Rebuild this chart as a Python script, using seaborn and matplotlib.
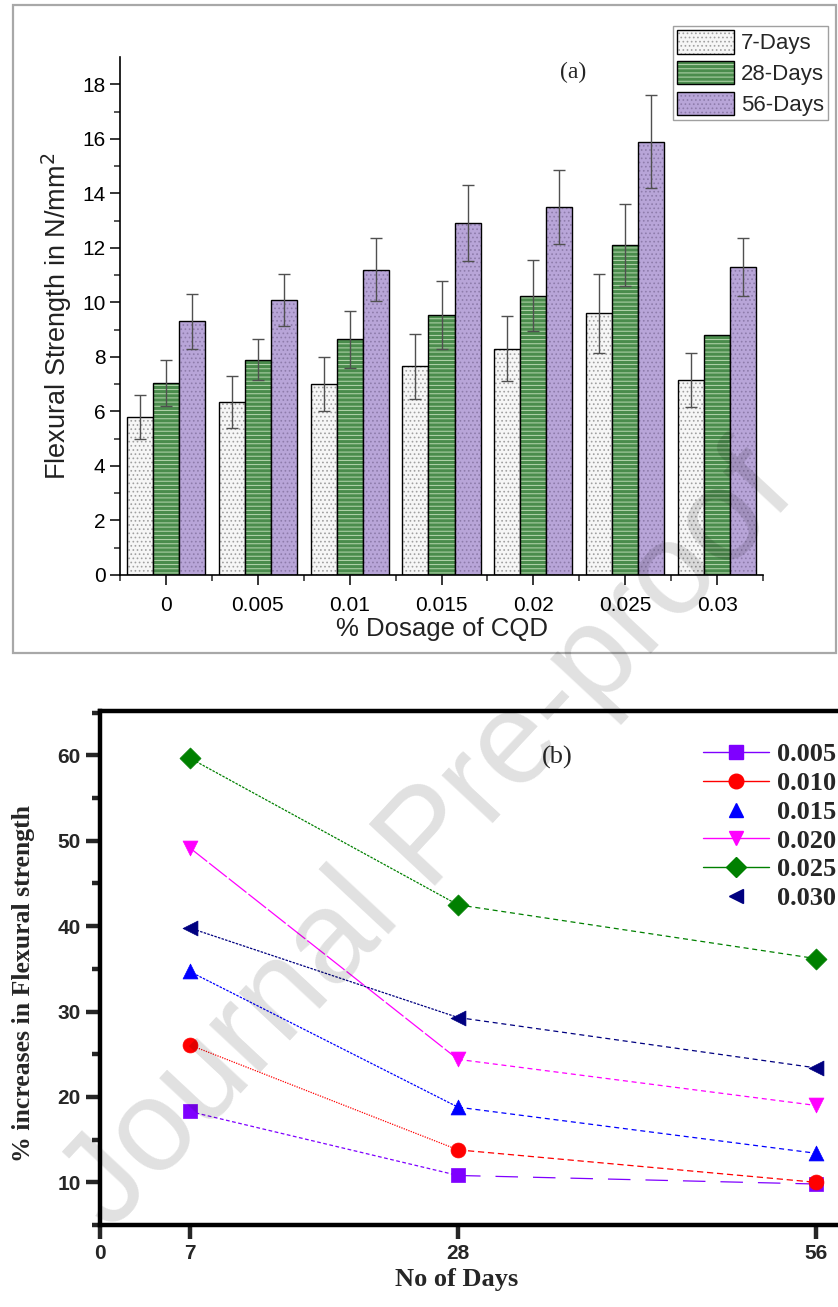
import numpy as np
import pandas as pd
import matplotlib
matplotlib.use("Agg")
import matplotlib.pyplot as plt
import matplotlib.colors as mcolors
import seaborn as sns
from matplotlib.lines import Line2D
from matplotlib.patches import Rectangle

# ---------------- data ----------------
dosages = ["0", "0.005", "0.01", "0.015", "0.02", "0.025", "0.03"]
periods = ["7-Days", "28-Days", "56-Days"]
strength_7 = [5.8, 6.35, 7.0, 7.65, 8.3, 9.6, 7.15]
strength_28 = [7.05, 7.9, 8.65, 9.55, 10.25, 12.1, 8.8]
strength_56 = [9.3, 10.1, 11.2, 12.9, 13.5, 15.9, 11.3]
err_7 = [0.8, 0.95, 1.0, 1.2, 1.2, 1.45, 1.0]
err_28 = [0.85, 0.75, 1.05, 1.25, 1.3, 1.5, 0.0]
err_56 = [1.0, 0.95, 1.15, 1.4, 1.35, 1.7, 1.05]

days = [7, 28, 56]
dose_labels = ["0.005", "0.010", "0.015", "0.020", "0.025", "0.030"]
inc_005 = [18.3, 10.8, 9.8]
inc_010 = [26.1, 13.8, 10.0]
inc_015 = [34.7, 18.8, 13.4]
inc_020 = [49.2, 24.4, 19.0]
inc_025 = [59.7, 42.5, 36.2]
inc_030 = [39.8, 29.3, 23.4]

# ---------------- style ----------------
sns.set_style("ticks")
plt.rcParams["font.family"] = ["Liberation Sans", "DejaVu Sans"]
plt.rcParams["hatch.linewidth"] = 0.7

bar_colors = ["#f6f6f6", "#4a8c4c", "#b8a5d8"]
bar_hatches = ["....", "----", "...."]
hatch_colors = ["#a0a0a0", "#b8d8b0", "#8e7cab"]

line_colors = ["#7f00ff", "#ff0000", "#0000ff", "#ff00ff", "#008000", "#000080"]
line_markers = ["s", "o", "^", "v", "D", "<"]
seg1_styles = [(0, (3, 2)), (0, (1, 1)), (0, (2, 1)), (0, (18, 2)), (0, (2, 1)), (0, (2, 1))]
seg2_styles = [(0, (18, 12)), (0, (5, 3)), (0, (4, 3)), (0, (4, 3)), (0, (4, 3)), (0, (4, 3))]
legend_has_line = [True, True, False, True, True, False]

W, H = 838, 1307
fig = plt.figure(figsize=(W / 100, H / 100), dpi=100)

# ================= panel (a) =================
ax1 = fig.add_axes([120 / W, 1 - 575 / H, (763 - 120) / W, (575 - 57) / H])
df = pd.DataFrame({
    "dosage": dosages * 3,
    "strength": strength_7 + strength_28 + strength_56,
    "period": [periods[0]] * 7 + [periods[1]] * 7 + [periods[2]] * 7,
})
sns.barplot(data=df, x="dosage", y="strength", hue="period", order=dosages,
            hue_order=periods, palette=bar_colors, width=0.85, edgecolor="black",
            linewidth=1.0, errorbar=None, legend=False, ax=ax1, saturation=1)

bar_conts = list(ax1.containers)
errs = [err_7, err_28, err_56]
vals = [strength_7, strength_28, strength_56]
for i, cont in enumerate(bar_conts):
    for p in cont.patches:
        p.set_hatch(bar_hatches[i])
        p._hatch_color = mcolors.to_rgba(hatch_colors[i])
        p.stale = True
    xs = [p.get_x() + p.get_width() / 2 for p in cont.patches]
    keep = [k for k in range(len(xs)) if errs[i][k] > 0]
    ax1.errorbar([xs[k] for k in keep], [vals[i][k] for k in keep],
                 yerr=[errs[i][k] for k in keep], fmt="none", ecolor="#505050",
                 elinewidth=1.0, capsize=4, capthick=1.0, zorder=5)

ax1.set_xlim(-0.5, 6.5)
ax1.set_ylim(0, 19)
ax1.set_yticks(np.arange(0, 19, 2))
ax1.set_yticks(np.arange(1, 19, 2), minor=True)
ax1.set_xticks(np.arange(-0.5, 7, 1), minor=True)
ax1.tick_params(axis="both", which="major", direction="out", length=7, width=1.1,
                labelsize=15, colors="black")
ax1.tick_params(axis="both", which="minor", direction="out", length=4, width=1.1)
ax1.tick_params(axis="x", which="major", pad=8)
for s in ["top", "right"]:
    ax1.spines[s].set_visible(False)
for s in ["left", "bottom"]:
    ax1.spines[s].set_linewidth(1.2)
    ax1.spines[s].set_color("black")
ax1.set_xlabel("% Dosage of CQD", fontsize=18.5, color="#222222")
ax1.set_ylabel("Flexural Strength in N/mm$^2$", fontsize=19.5, color="#222222")
ax1.xaxis.set_label_coords(0.5, -0.082)
ax1.yaxis.set_label_coords(-0.072, 0.5)

leg1 = ax1.legend([c.patches[0] for c in bar_conts], periods, loc="upper right",
                  bbox_to_anchor=(828 / W, 1 - 26 / H), bbox_transform=fig.transFigure,
                  fontsize=16, frameon=True, fancybox=False, edgecolor="#888888",
                  handlelength=2.6, handleheight=1.25, labelspacing=0.3,
                  handletextpad=0.3, borderpad=0.18, borderaxespad=0)
leg1.get_frame().set_linewidth(1.0)
for hp in leg1.get_patches():
    hp.set_edgecolor("black")
for i, hp in enumerate(leg1.get_patches()):
    hp._hatch_color = mcolors.to_rgba(hatch_colors[i])
fig.text(573 / W, 1 - 72 / H, "(a)", fontsize=17, family="Liberation Serif",
         ha="center", va="center")

fig.patches.append(Rectangle((13 / W, 1 - 653 / H), (836 - 13) / W, (653 - 5) / H,
                             transform=fig.transFigure, fill=False,
                             edgecolor="#a8a8a8", lw=1.6))

# ================= panel (b) =================
ax2 = fig.add_axes([100 / W, 1 - 1225 / H, (848 - 100) / W, (1225 - 711) / H])
series = [inc_005, inc_010, inc_015, inc_020, inc_025, inc_030]
handles = []
for i, ys in enumerate(series):
    sns.lineplot(x=days[:2], y=ys[:2], ax=ax2, color=line_colors[i],
                 linestyle=seg1_styles[i], linewidth=0.9)
    sns.lineplot(x=days[1:], y=ys[1:], ax=ax2, color=line_colors[i],
                 linestyle=seg2_styles[i], linewidth=0.9)
    sns.scatterplot(x=days, y=ys, ax=ax2, color=line_colors[i], marker=line_markers[i],
                    s=115, edgecolor=line_colors[i], linewidth=0.5, zorder=5)
    handles.append(Line2D([], [], color=line_colors[i], marker=line_markers[i],
                          markersize=10.5, lw=1.0,
                          linestyle="-" if legend_has_line[i] else "none"))

ax2.set_xlim(0, 58.5)
ax2.set_ylim(5, 65.2)
ax2.set_xticks([0, 7, 28, 56])
ax2.set_yticks(np.arange(10, 61, 10))
ax2.set_yticks(np.arange(5, 66, 10), minor=True)
ax2.tick_params(axis="both", which="major", direction="out", length=10, width=3.2,
                labelsize=15, pad=4)
ax2.tick_params(axis="y", which="minor", direction="out", length=6, width=3.2)
for lab in ax2.get_xticklabels() + ax2.get_yticklabels():
    lab.set_fontweight("bold")
for s in ax2.spines.values():
    s.set_linewidth(3.2)
    s.set_color("black")
ax2.set_xlabel("No of Days", fontsize=19, fontweight="bold", family="Liberation Serif")
ax2.set_ylabel("% increases in Flexural strength", fontsize=18.5, fontweight="bold",
               family="Liberation Serif")
ax2.xaxis.set_label_coords((457 - 100) / 748, -(1268 - 1225) / 514)
ax2.yaxis.set_label_coords(-(100 - 35) / 748, 0.47)

ax2.legend(handles, dose_labels, loc="upper right", bbox_to_anchor=(836 / W, 1 - 743 / H),
           bbox_transform=fig.transFigure, frameon=False,
           prop={"family": "Liberation Serif", "weight": "bold", "size": 19},
           handlelength=2.5, handletextpad=0.3, labelspacing=0.2, borderpad=0,
           borderaxespad=0)
fig.text(557 / W, 1 - 757 / H, "(b)", fontsize=19, family="Liberation Serif",
         ha="center", va="center")

# watermark
fig.text(0.513, 0.357, "Journal Pre-proof", fontsize=94, rotation=47, color="black",
         alpha=0.12, ha="center", va="center", zorder=100)

fig.savefig("out.png", dpi=100)
